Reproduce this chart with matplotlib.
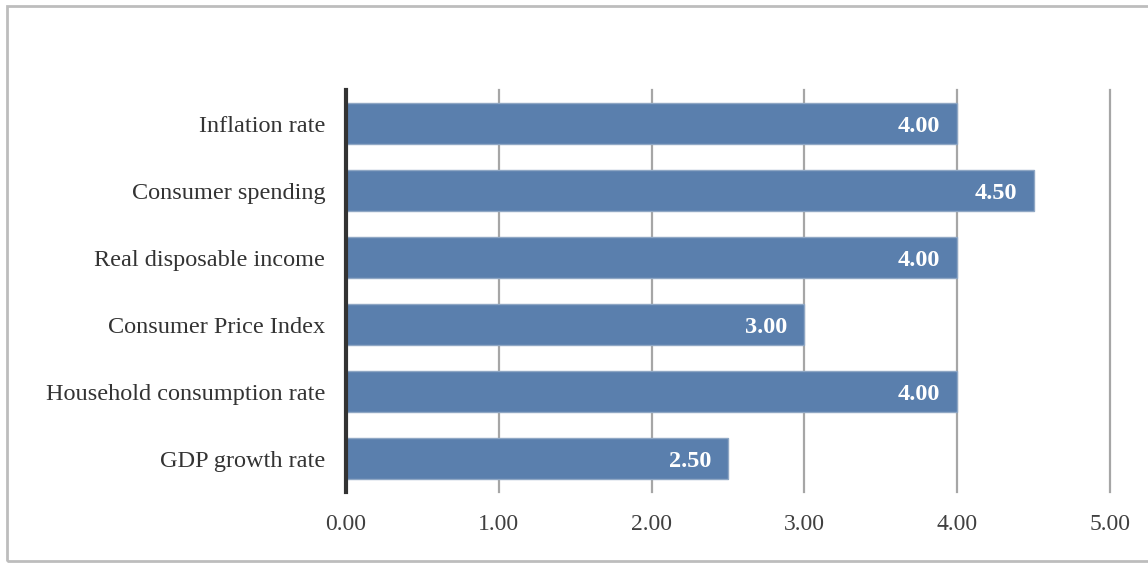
import matplotlib.pyplot as plt
from matplotlib.patches import Rectangle

# data
categories = ["GDP growth rate", "Household consumption rate", "Consumer Price Index",
              "Real disposable income", "Consumer spending", "Inflation rate"]
values = [2.50, 4.00, 3.00, 4.00, 4.50, 4.00]
xticks = [0, 1, 2, 3, 4, 5]

plt.rcParams['font.family'] = ['Liberation Serif', 'DejaVu Serif']

fig = plt.figure(figsize=(11.48, 5.63), dpi=100)
ax = fig.add_axes([0.3014, 0.1261, 0.6655, 0.714])

# gray frame around the chart area
fig.patches.append(Rectangle((7 / 1148, 2 / 563), 1.2, 555 / 563, transform=fig.transFigure,
                             fill=False, edgecolor="#BDBDBD", linewidth=2))

bars = ax.barh(range(len(categories)), values, height=0.6,
               color="#5A7FAD", edgecolor="#8FA7C4", linewidth=1, zorder=3)

for b, v in zip(bars, values):
    ax.text(b.get_width() - 0.11, b.get_y() + b.get_height() / 2 - 0.05, f"{v:.2f}",
            ha="right", va="center", color="white", fontsize=17.5, fontweight="bold", zorder=4)

ax.set_xlim(0, 5)
ax.set_ylim(-0.5, len(categories) - 0.5)
ax.set_xticks(xticks)
ax.set_xticklabels([f"{t:.2f}" for t in xticks], fontsize=17, color="#404040")
ax.set_yticks(range(len(categories)))
ax.set_yticklabels(categories, fontsize=17.5, color="#333333")
ax.tick_params(axis="both", length=0)
ax.tick_params(axis="x", pad=16)
ax.tick_params(axis="y", pad=15)

ax.grid(axis="x", color="#A6A6A6", linewidth=1.6, zorder=0)
for gl in ax.get_xgridlines():
    gl.set_clip_on(False)
for s in ["top", "right", "bottom"]:
    ax.spines[s].set_visible(False)
ax.spines["left"].set_color("#333333")
ax.spines["left"].set_linewidth(3)
ax.spines["left"].set_zorder(5)

fig.savefig("out.png", dpi=100)
